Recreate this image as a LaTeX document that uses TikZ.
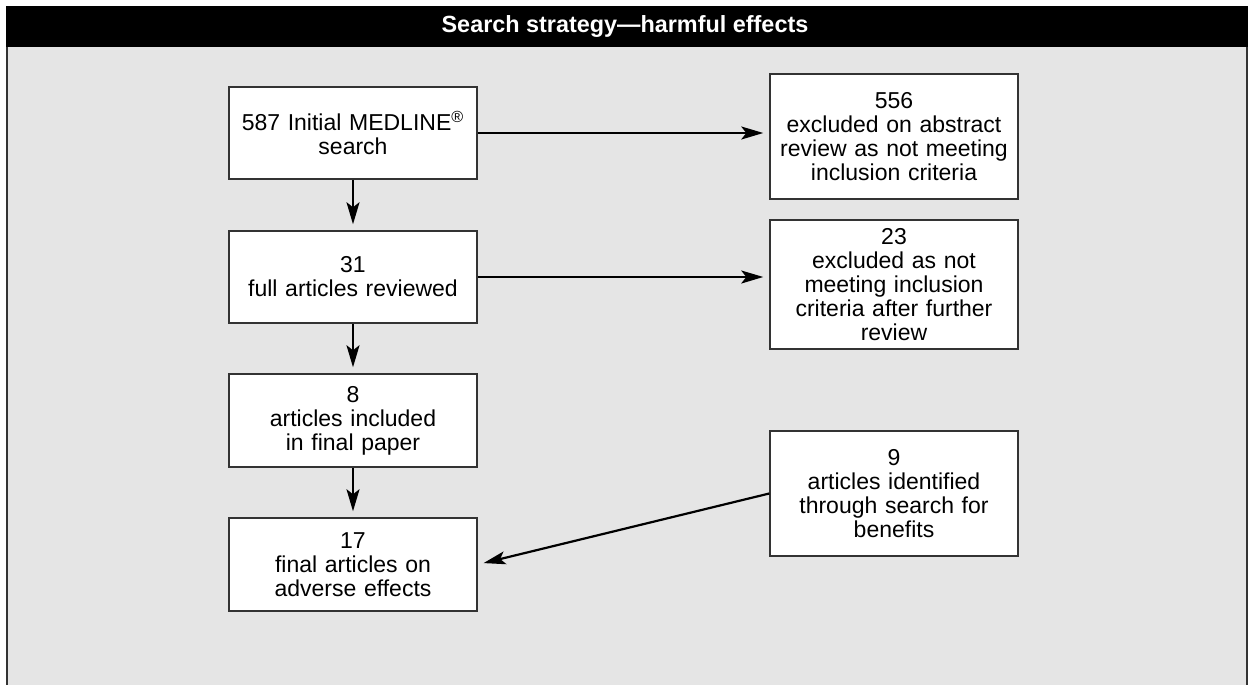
\documentclass[tikz,border=0pt]{standalone}
\usepackage{fontspec}
\setmainfont{Liberation Sans}
\usetikzlibrary{arrows.meta}
\definecolor{panel}{HTML}{E5E5E5}
\definecolor{edge}{HTML}{333333}

\begin{document}
\begin{tikzpicture}[x=0.5pt, y=-0.5pt, >={Stealth[length=11pt,width=6.5pt,inset=2.5pt]}]
	\tikzstyle{box}=[rectangle, fill=white, draw=edge, line width=0.75pt, minimum width=124pt, inner sep=0pt, text width=120pt, align=center, font=\fontsize{11.5pt}{12pt}\selectfont]
	\tikzstyle{flow}=[->, line width=1.1pt, shorten >=3pt]

	% Draw the panel and its header
	\useasboundingbox (0,0) rectangle (1248,685);
	\fill[white] (0,0) rectangle (1248,685);
	\fill[panel] (7,47) rectangle (1247,685);
	\draw[edge, line width=0.75pt] (7,47) -- (7,685);
	\draw[edge, line width=1pt] (1247,47) -- (1247,685);
	\fill[black] (6,6) rectangle (1248,47);
	\node[text=white, font=\bfseries\fontsize{11.7pt}{12pt}\selectfont] (title) at (625,26.5) {Search strategy—harmful effects};

	% Draw the boxes
	\node[box, minimum height=46pt] (medline) at (353,133) {587 Initial MEDLINE\textsuperscript{\textregistered}\\search};
	\node[box, minimum height=46pt] (full) at (353,277) {31\\full articles reviewed};
	\node[box, minimum height=46.5pt] (included) at (353,420.5) {8\\articles included\\in final paper};
	\node[box, minimum height=46.5pt] (final) at (353,564.5) {17\\final articles on\\adverse effects};
	\node[box, minimum height=62.5pt] (abstract) at (894,136.5) {556\\excluded on abstract\\review as not meeting\\inclusion criteria};
	\node[box, minimum height=64.5pt] (further) at (894,284.5) {23\\excluded as not\\meeting inclusion\\criteria after further\\review};
	\node[box, minimum height=62.5pt] (benefits) at (894,493.5) {9\\articles identified\\through search for\\benefits};

	% Draw arrows
	\path[flow] (medline) edge (full);
	\path[flow] (full) edge (included);
	\path[flow] (included) edge (final);
	\path[flow] (medline.east) edge (medline.east -| abstract.west);
	\path[flow] (full.east) edge (full.east -| further.west);
	\path[flow] (benefits.west) edge (final.east);

\end{tikzpicture}
\end{document}
